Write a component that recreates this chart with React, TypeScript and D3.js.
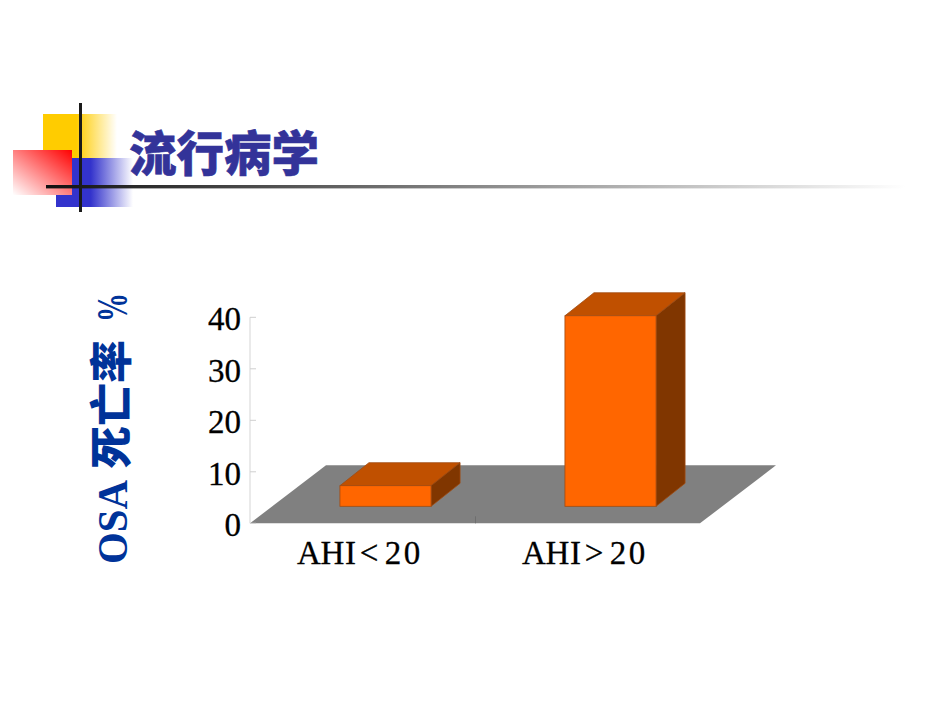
import React from "react";
import * as d3 from "d3";

const title = "流行病学";
const categories = ["AHI<20", "AHI>20"];
const values = [4, 37];
const yTicks = [0, 10, 20, 30, 40];

const W = 950, H = 713;
const y = d3.scaleLinear().domain([0, 40]).range([523.3, 317.3]);
const x = d3.scaleBand<string>().domain(categories).range([250, 700]).paddingInner(0.595).paddingOuter(0.2975);
const dx = 29, dy = -23;
const floorFrontX = 23, floorFrontY = 17, floorShiftX = 76, floorShiftY = -58;
const charOffsets = [-51, -27.5, -9.5, 9, 33, 52];
const serif = "'Liberation Serif', serif";
const cjk = "'Noto Sans CJK SC', sans-serif";

const poly = (p: [number, number][]) => d3.line()(p)! + "Z";

export default function App() {
  const y0 = y(0);
  return (
    <svg width={W} height={H} viewBox={`0 0 ${W} ${H}`} style={{ position: "absolute", left: 0, top: 0, background: "#fff" }}>
      <defs>
        <linearGradient id="yel" x1="0" x2="1" y1="0" y2="0">
          <stop offset="0.45" stopColor="#ffcc00" />
          <stop offset="1" stopColor="#ffcc00" stopOpacity="0" />
        </linearGradient>
        <linearGradient id="blu" x1="0" x2="1" y1="0" y2="0">
          <stop offset="0.45" stopColor="#3333cc" />
          <stop offset="1" stopColor="#3333cc" stopOpacity="0" />
        </linearGradient>
        <linearGradient id="red" x1="1" x2="0" y1="0" y2="1">
          <stop offset="0" stopColor="#ff0000" />
          <stop offset="1" stopColor="#ff0000" stopOpacity="0" />
        </linearGradient>
        <linearGradient id="rule" gradientUnits="userSpaceOnUse" x1="46" x2="905" y1="0" y2="0">
          <stop offset="0" stopColor="#111" />
          <stop offset="1" stopColor="#fff" />
        </linearGradient>
      </defs>

      <rect x={43} y={114} width={74} height={44} fill="url(#yel)" />
      <rect x={56} y={158} width={77} height={49} fill="url(#blu)" />
      <rect x={13} y={150} width={59} height={45} fill="#fff" />
      <rect x={13} y={150} width={59} height={45} fill="url(#red)" />
      <rect x={79} y={103} width={3} height={109} fill="#1a1a1a" />
      <rect x={46} y={185} width={859} height={3.4} fill="url(#rule)" />
      <text x={129} y={171} fontFamily={cjk} fontWeight={900} fontSize={47.5} fill="#333399" stroke="#333399" strokeWidth={0.6}>{title}</text>

      <g fill="#003399">
        <text transform="translate(127,564) rotate(-90)" fontFamily={serif} fontWeight={700} fontSize={43} textLength={84} lengthAdjust="spacingAndGlyphs">OSA</text>
        <text transform="translate(127,469) rotate(-90)" fontFamily={cjk} fontWeight={900} fontSize={43}>死亡率</text>
        <text transform="translate(127,322) rotate(-90)" fontFamily={serif} fontWeight={700} fontSize={44} textLength={29} lengthAdjust="spacingAndGlyphs">%</text>
      </g>

      <path d={poly([[250, y0], [700, y0], [700 + floorShiftX, y0 + floorShiftY], [250 + floorShiftX, y0 + floorShiftY]])} fill="#808080" />

      <line x1={250} x2={250} y1={y(40)} y2={y0} stroke="#dcdcdc" strokeWidth={1.2} />
      {yTicks.map(t => (
        <g key={t}>
          <line x1={250} x2={256} y1={y(t)} y2={y(t)} stroke="#cfcfcf" />
          <text x={241} y={y(t) + 13} textAnchor="end" fontFamily={serif} fontSize={33} fill="#000" stroke="#000" strokeWidth={0.3}>{t}</text>
        </g>
      ))}
      <line x1={475.5} x2={475.5} y1={y0 - 7} y2={y0} stroke="#6e6e6e" />

      {categories.map((c, i) => {
        const l = x(c)! + floorFrontX, r = l + x.bandwidth();
        const b = y0 - floorFrontY;
        const t = b - (y0 - y(values[i]));
        return (
          <g key={c} stroke="#a04a10" strokeWidth={0.8}>
            <path d={poly([[l, t], [r, t], [r + dx, t + dy], [l + dx, t + dy]])} fill="#c05000" />
            <path d={poly([[r, t], [r + dx, t + dy], [r + dx, b + dy], [r, b]])} fill="#803600" />
            <rect x={l} y={t} width={r - l} height={b - t} fill="#ff6600" />
          </g>
        );
      })}

      {categories.map(c => {
        const cx = x(c)! + x.bandwidth() / 2 - 2.5;
        return (
          <text
            key={c}
            x={charOffsets.map(o => cx + o).join(" ")}
            y={564}
            textAnchor="middle"
            fontFamily={serif}
            fontSize={33}
            fill="#000"
            stroke="#000"
            strokeWidth={0.3}
          >{c}</text>
        );
      })}
    </svg>
  );
}
